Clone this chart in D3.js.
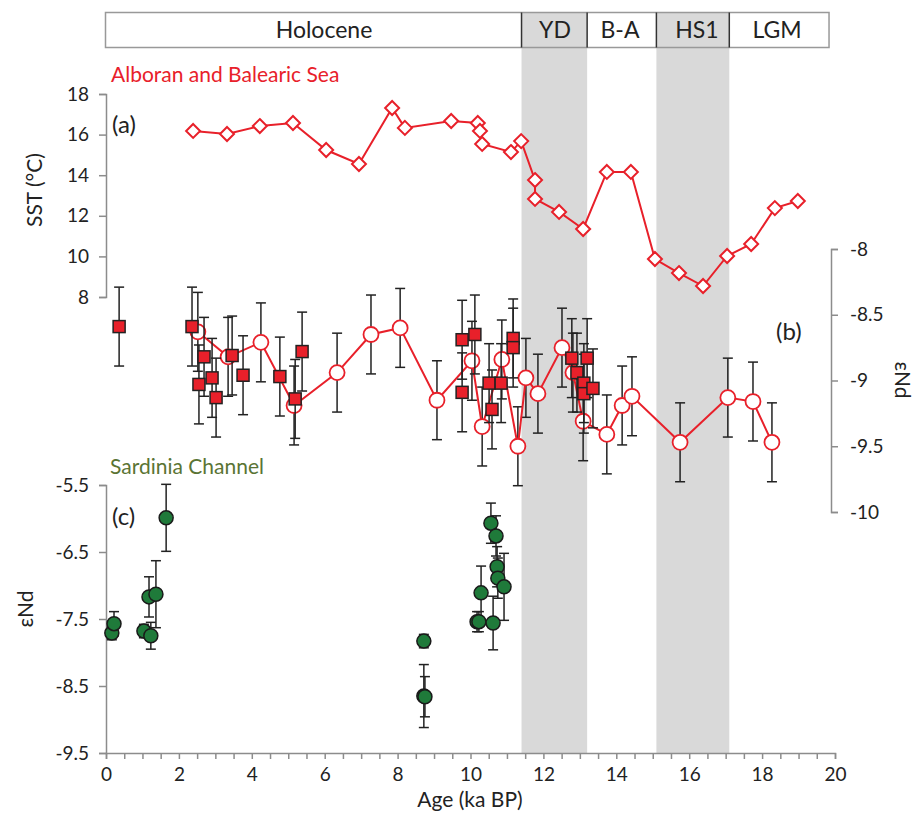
<!DOCTYPE html>
<html>
<head>
<meta charset="utf-8">
<script src="https://cdn.jsdelivr.net/npm/d3@7"></script>
<style>
body { margin: 0; background: #fff; }
svg text { font-family: Lato, "Open Sans", sans-serif; fill: #222; }
</style>
</head>
<body>
<svg width="915" height="834"></svg>
<script>
// periods (top bar), ka BP
var periodNames = ["Holocene", "YD", "B-A", "HS1", "LGM"];
var periodStart = [0, 11.4, 13.2, 15.1, 17.1];
var periodEnd = [11.4, 13.2, 15.1, 17.1, 19.85];
var periodShaded = [false, true, false, true, false];

// (a) Alboran and Balearic Sea SST
var sstAge = [2.39, 3.32, 4.22, 5.13, 6.04, 6.94, 7.85, 8.2, 9.47, 10.2, 10.26, 10.32, 11.11, 11.39, 11.77, 11.77, 12.43, 13.09, 13.74, 14.4, 15.06, 15.72, 16.38, 17.04, 17.7, 18.35, 18.98];
var sstVal = [16.18, 16.03, 16.42, 16.57, 15.24, 14.55, 17.31, 16.33, 16.67, 16.57, 16.18, 15.54, 15.14, 15.68, 13.76, 12.83, 12.19, 11.35, 14.16, 14.16, 9.87, 9.18, 8.54, 10.02, 10.61, 12.38, 12.73];

// (b) eNd, open circles (connected)
var cirAge = [2.52, 3.35, 4.25, 5.16, 6.34, 7.27, 8.07, 9.08, 10.04, 10.32, 10.86, 11.30, 11.52, 11.85, 12.51, 12.81, 13.09, 13.74, 14.16, 14.43, 15.75, 17.06, 17.75, 18.27];
var cirNd = [-8.63, -8.82, -8.71, -9.19, -8.94, -8.65, -8.60, -9.15, -8.85, -9.35, -8.84, -9.50, -8.98, -9.10, -8.75, -8.94, -9.31, -9.41, -9.19, -9.12, -9.47, -9.13, -9.16, -9.47];
var cirErr = [0.3, 0.3, 0.3, 0.3, 0.3, 0.3, 0.3, 0.3, 0.3, 0.3, 0.3, 0.3, 0.3, 0.3, 0.3, 0.3, 0.3, 0.3, 0.3, 0.3, 0.3, 0.3, 0.3, 0.3];

// (b) eNd, filled squares
var sqAge = [0.36, 2.36, 2.55, 2.69, 2.91, 3.02, 3.46, 3.76, 4.77, 5.19, 5.38, 9.77, 9.77, 10.12, 10.51, 10.59, 10.84, 11.17, 11.17, 12.78, 12.92, 13.11, 13.11, 13.20, 13.36];
var sqNd = [-8.59, -8.59, -9.03, -8.82, -8.98, -9.13, -8.81, -8.96, -8.97, -9.14, -8.78, -8.69, -9.09, -8.65, -9.02, -9.22, -9.02, -8.68, -8.75, -8.83, -8.94, -9.02, -9.10, -8.83, -9.06];
var sqErr = [0.3, 0.3, 0.3, 0.3, 0.3, 0.3, 0.3, 0.3, 0.3, 0.3, 0.3, 0.3, 0.3, 0.3, 0.3, 0.3, 0.3, 0.3, 0.3, 0.3, 0.3, 0.3, 0.3, 0.3, 0.3];

// (c) Sardinia Channel eNd
var scAge = [0.16, 0.22, 1.04, 1.18, 1.23, 1.37, 1.65, 8.72, 8.72, 8.75, 10.18, 10.23, 10.29, 10.56, 10.62, 10.70, 10.73, 10.75, 10.92];
var scNd = [-7.71, -7.57, -7.68, -7.17, -7.75, -7.13, -5.99, -7.83, -8.65, -8.66, -7.54, -7.54, -7.11, -6.07, -7.56, -6.26, -6.72, -6.89, -7.02];
var scErr = [0.1, 0.18, 0.1, 0.3, 0.2, 0.5, 0.5, 0.1, 0.47, 0.3, 0.15, 0.15, 0.4, 0.3, 0.4, 0.3, 0.3, 0.3, 0.5];

// tick values
var xLabels = [0, 2, 4, 6, 8, 10, 12, 14, 16, 18, 20];
var sstTicks = [8, 10, 12, 14, 16, 18];
var bTicks = [-8, -8.5, -9, -9.5, -10];
var cTicks = [-5.5, -6.5, -7.5, -8.5, -9.5];

var svg = d3.select("svg");
var red = "#e8202a", axisGrey = "#8c8c8c";

var x = d3.scaleLinear().domain([0, 20]).range([106, 835]);
var ySST = d3.scaleLinear().domain([8, 18]).range([297, 94]);
var yB = d3.scaleLinear().domain([-10, -8]).range([512, 249]);
var yC = d3.scaleLinear().domain([-9.5, -5.5]).range([753, 485]);

// shaded bands
for (var i = 0; i < periodNames.length; i++) {
  if (periodShaded[i]) {
    svg.append("rect")
    .attr("x", x(periodStart[i]))
    .attr("y", 12)
    .attr("width", x(periodEnd[i]) - x(periodStart[i]))
    .attr("height", 753 - 12)
    .attr("fill", "#d9d9d9");
  }
}

// top bar
svg.append("rect")
.attr("x", x(0) - 0.5).attr("y", 12.5)
.attr("width", x(periodEnd[4]) - x(0)).attr("height", 35)
.attr("fill", "none").attr("stroke", "#999").attr("stroke-width", 1.5);
for (var i = 1; i < periodNames.length; i++) {
  svg.append("line")
  .attr("x1", x(periodStart[i])).attr("x2", x(periodStart[i]))
  .attr("y1", 12.5).attr("y2", 47.5)
  .attr("stroke", "#333").attr("stroke-width", 1.5);
}
var labelX = [324, 555, 620, 697, 777];
for (var i = 0; i < periodNames.length; i++) {
  svg.append("text")
  .attr("x", labelX[i]).attr("y", 38)
  .attr("text-anchor", "middle")
  .attr("font-size", 23)
  .text(periodNames[i]);
}

function styleAxis(g) {
  g.selectAll(".domain").attr("stroke", axisGrey).attr("stroke-width", 1.5);
  g.selectAll(".tick line").attr("stroke", axisGrey).attr("stroke-width", 1.5);
  g.selectAll(".tick text").attr("font-size", 19).attr("fill", "#222");
}

// axes
svg.append("g")
.attr("transform", "translate(0,753)")
.call(d3.axisBottom(x).tickValues(x.ticks(40)).tickSizeOuter(0).tickSize(6)
  .tickFormat(function(d) { return xLabels.indexOf(d) >= 0 ? d : ""; }))
.call(styleAxis)
.selectAll(".tick text").attr("dy", "1.0em");

svg.append("g")
.attr("transform", "translate(106,0)")
.call(d3.axisLeft(ySST).tickValues(sstTicks).tickSizeOuter(0).tickSize(7).tickPadding(10))
.call(styleAxis);

svg.append("g")
.attr("transform", "translate(106,0)")
.call(d3.axisLeft(yC).tickValues(cTicks).tickSizeOuter(0).tickSize(7).tickPadding(10)
  .tickFormat(function(d) { return String(d); }))
.call(styleAxis);

svg.append("g")
.attr("transform", "translate(831,0)")
.call(d3.axisRight(yB).tickValues(bTicks).tickSizeOuter(0).tickSize(7).tickPadding(12)
  .tickFormat(function(d) { return String(d); }))
.call(styleAxis);

// axis titles
svg.append("text").attr("transform", "translate(42,190) rotate(-90)")
.attr("text-anchor", "middle").attr("font-size", 21).text("SST (°C)");
svg.append("text").attr("transform", "translate(33,609) rotate(-90)")
.attr("text-anchor", "middle").attr("font-size", 21).text("εNd");
svg.append("text").attr("transform", "translate(895,380) rotate(90)")
.attr("text-anchor", "middle").attr("font-size", 21).text("εNd");
svg.append("text").attr("x", 470).attr("y", 807)
.attr("text-anchor", "middle").attr("font-size", 21).text("Age (ka BP)");

// series titles and panel letters
svg.append("text").attr("x", 111).attr("y", 82).attr("font-size", 21)
.style("fill", red).text("Alboran and Balearic Sea");
svg.append("text").attr("x", 110).attr("y", 474).attr("font-size", 21)
.style("fill", "#5a7434").text("Sardinia Channel");
svg.append("text").attr("x", 112).attr("y", 133).attr("font-size", 24).text("(a)");
svg.append("text").attr("x", 776).attr("y", 340).attr("font-size", 24).text("(b)");
svg.append("text").attr("x", 112).attr("y", 525).attr("font-size", 24).text("(c)");

// error bar helper
function errBars(ages, vals, errs, y) {
  var g = svg.append("g").attr("stroke", "#222").attr("stroke-width", 1.5);
  for (var i = 0; i < ages.length; i++) {
    var cx = x(ages[i]), top = y(vals[i] + errs[i]), bot = y(vals[i] - errs[i]);
    g.append("line").attr("x1", cx).attr("x2", cx).attr("y1", top).attr("y2", bot);
    g.append("line").attr("x1", cx - 5).attr("x2", cx + 5).attr("y1", top).attr("y2", top);
    g.append("line").attr("x1", cx - 5).attr("x2", cx + 5).attr("y1", bot).attr("y2", bot);
  }
}

// (a) SST
var sstData = sstAge.map(function(a, i) { return {age: a, v: sstVal[i]}; });
svg.append("path")
.datum(sstData)
.attr("fill", "none").attr("stroke", red).attr("stroke-width", 2)
.attr("d", d3.line().x(function(d) { return x(d.age); }).y(function(d) { return ySST(d.v); }));
svg.selectAll(".dia").data(sstData).enter().append("path")
.attr("transform", function(d) { return "translate(" + x(d.age) + "," + ySST(d.v) + ")"; })
.attr("d", "M0,-7L7,0L0,7L-7,0Z")
.attr("fill", "#fff").attr("stroke", red).attr("stroke-width", 2);

// (b) circles
errBars(cirAge, cirNd, cirErr, yB);
var cirData = cirAge.map(function(a, i) { return {age: a, v: cirNd[i]}; });
svg.append("path")
.datum(cirData)
.attr("fill", "none").attr("stroke", red).attr("stroke-width", 2)
.attr("d", d3.line().x(function(d) { return x(d.age); }).y(function(d) { return yB(d.v); }));
svg.selectAll(".cir").data(cirData).enter().append("circle")
.attr("cx", function(d) { return x(d.age); })
.attr("cy", function(d) { return yB(d.v); })
.attr("r", 7.5)
.attr("fill", "#fff").attr("stroke", red).attr("stroke-width", 1.8);

// (b) squares
errBars(sqAge, sqNd, sqErr, yB);
svg.selectAll(".sq").data(sqAge).enter().append("rect")
.attr("x", function(d) { return x(d) - 6; })
.attr("y", function(d, i) { return yB(sqNd[i]) - 6; })
.attr("width", 12).attr("height", 12)
.attr("fill", red).attr("stroke", "#222").attr("stroke-width", 1.5);

// (c) Sardinia Channel
errBars(scAge, scNd, scErr, yC);
svg.selectAll(".sc").data(scAge).enter().append("circle")
.attr("cx", function(d) { return x(d); })
.attr("cy", function(d, i) { return yC(scNd[i]); })
.attr("r", 7)
.attr("fill", "#1f7a3a").attr("stroke", "#1a1a1a").attr("stroke-width", 1.5);
</script>
</body>
</html>
